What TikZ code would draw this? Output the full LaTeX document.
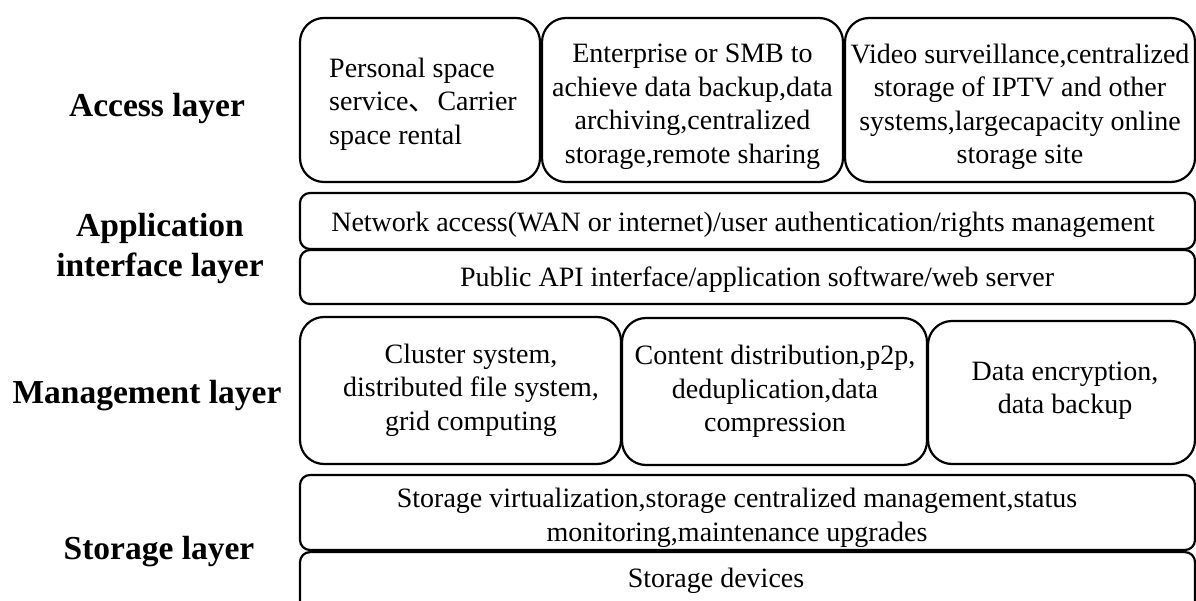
\documentclass[tikz,border=0pt]{standalone}
\usepackage{fontspec}
\setmainfont{Liberation Serif}
\newfontfamily\cjkfont{Noto Sans CJK SC}
\usetikzlibrary{positioning}

\begin{document}
\begin{tikzpicture}[x=1pt, y=-1pt,
    every node/.style={font=\fontsize{28}{33.5}\selectfont, align=center},
    bigbox/.style={draw, line width=2.2pt, rounded corners=24pt, inner sep=0pt},
    barbox/.style={draw, line width=2.2pt, rounded corners=10pt, inner sep=0pt},
    layername/.style={font=\fontsize{33.5}{40}\selectfont\bfseries}]
    \useasboundingbox (0,0) rectangle (1196,601);

    % Layer names on the left
    \node[layername] (access) at (157,108) {Access layer};
    \node[layername] (appif) at (160,248) {Application\\interface layer};
    \node[layername] (mgmt) at (147,396) {Management layer};
    \node[layername] (storage) at (159,552) {Storage layer};

    % Access layer
    \node[bigbox, minimum width=240pt, minimum height=164pt] (personal) at (420,100) {};
    \node[align=left] at (423,104) {Personal space\\service{\cjkfont 、}\hspace{1pt}Carrier\\space rental};
    \node[bigbox, minimum width=301pt, minimum height=164pt] (enterprise) at (692.5,100) {};
    \node at (692.5,107) {Enterprise or SMB to\\achieve data backup,data\\archiving,centralized\\storage,remote sharing};
    \node[bigbox, minimum width=350pt, minimum height=164pt] (video) at (1020,100) {};
    \node at (1020,107) {Video surveillance,centralized\\storage of IPTV and other\\systems,largecapacity online\\storage site};

    % Application interface layer
    \node[barbox, minimum width=895pt, minimum height=56pt] (network) at (747.5,221) {};
    \node at (743,225) {Network access(WAN or internet)/user authentication/rights management};
    \node[barbox, minimum width=895pt, minimum height=54pt] (api) at (747.5,277) {};
    \node at (757,280) {Public API interface/application software/web server};

    % Management layer
    \node[bigbox, minimum width=321pt, minimum height=147pt] (cluster) at (460.5,390.5) {};
    \node at (471,390) {Cluster system,\\distributed file system,\\grid computing};
    \node[bigbox, minimum width=305pt, minimum height=147pt] (content) at (774.5,391.5) {};
    \node at (775,391.5) {Content distribution,p2p,\\deduplication,data\\compression};
    \node[bigbox, minimum width=267pt, minimum height=143pt] (encrypt) at (1061.5,392.5) {};
    \node at (1065,390.5) {Data encryption,\\data backup};

    % Storage layer
    \node[barbox, minimum width=895pt, minimum height=75pt] (virtual) at (747.5,512.5) {};
    \node at (737,518) {Storage virtualization,storage centralized management,status\\monitoring,maintenance upgrades};
    \node[barbox, minimum width=895pt, minimum height=80pt, anchor=north] (devices) at (747.5,551) {};
    \node at (716,581) {Storage devices};
\end{tikzpicture}
\end{document}
